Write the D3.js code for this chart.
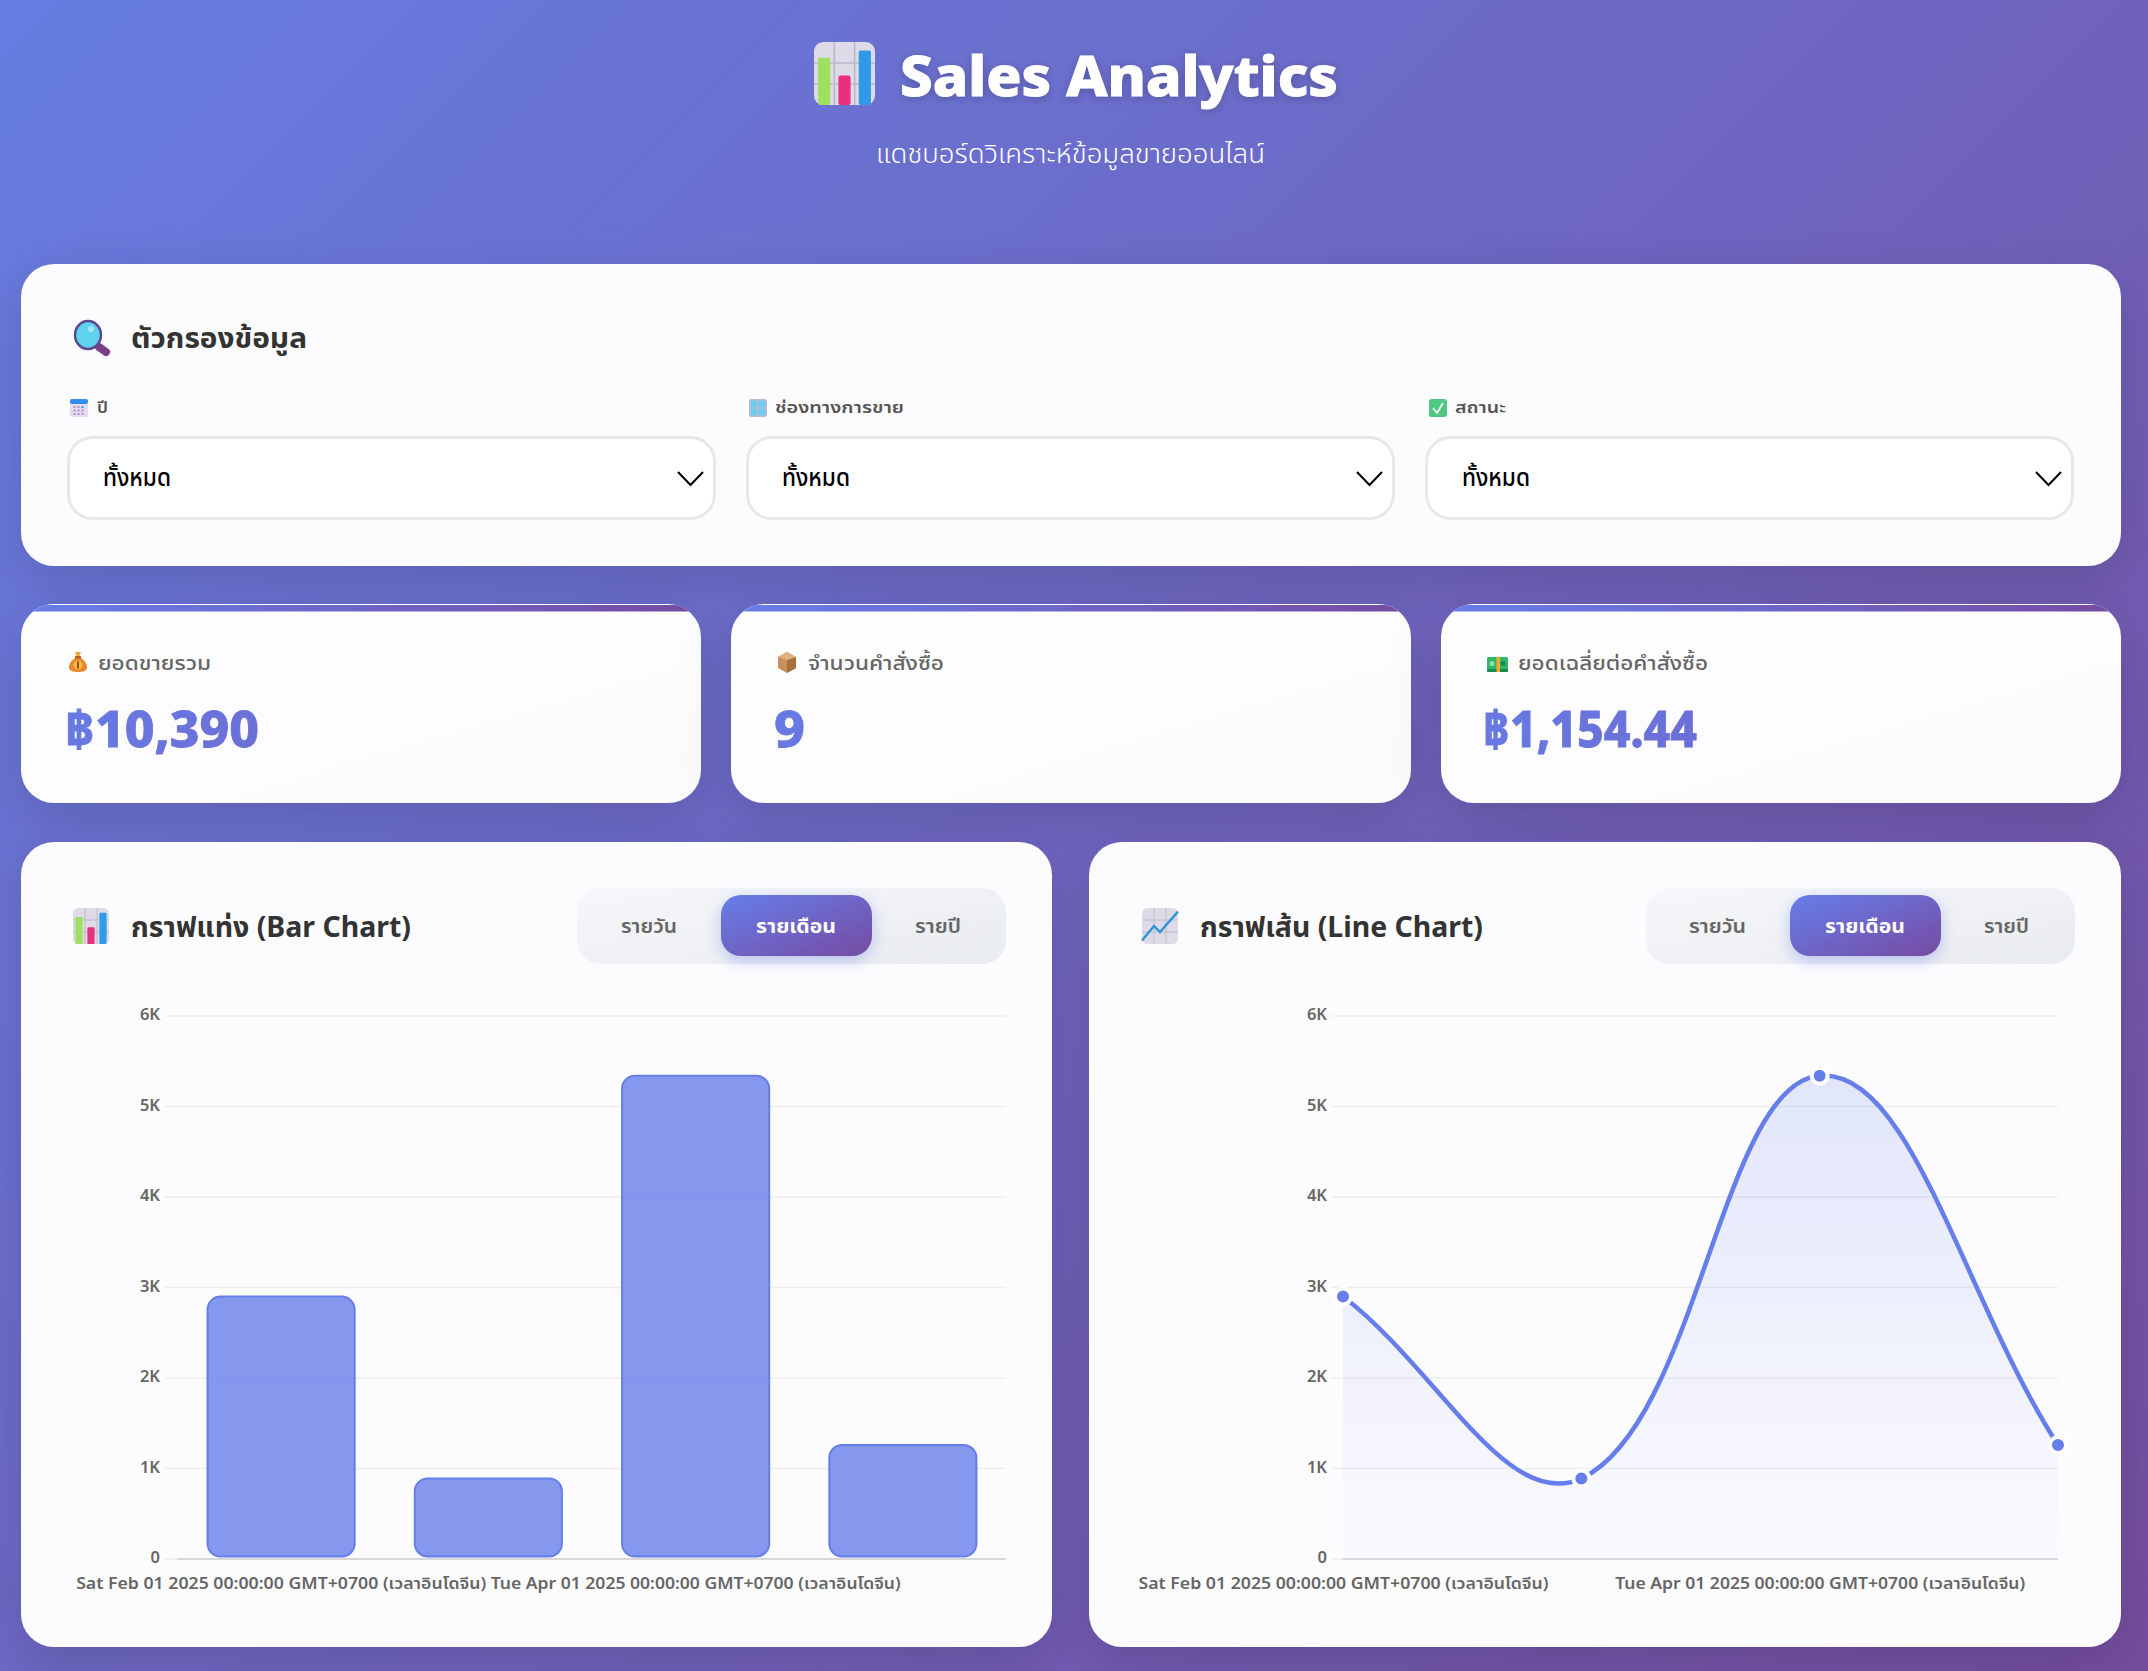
<!DOCTYPE html>
<html>
<head>
<meta charset="utf-8">
<title>Sales Analytics</title>
<script src="https://cdn.jsdelivr.net/npm/d3@7"></script>
<style>
html, body { margin: 0; padding: 0; background: #6a65c6; overflow: hidden; }
svg { display: block; }
text { font-family: "Noto Sans", "Noto Sans Thai", "Noto Sans Thai Looped", sans-serif; }
</style>
</head>
<body>
<div id="page"></div>
<script>
// chart values
var monthLabels = [
    "Sat Feb 01 2025 00:00:00 GMT+0700 (เวลาอินโดจีน)",
    "Sat Mar 01 2025 00:00:00 GMT+0700 (เวลาอินโดจีน)",
    "Tue Apr 01 2025 00:00:00 GMT+0700 (เวลาอินโดจีน)",
    "Thu May 01 2025 00:00:00 GMT+0700 (เวลาอินโดจีน)"
];
var salesValues = [2900, 890, 5340, 1260];
var yTicks = [0, 1000, 2000, 3000, 4000, 5000, 6000];
var shownLabels = [monthLabels[0], monthLabels[2]];

// page text
var filterLabels = ["ปี", "ช่องทางการขาย", "สถานะ"];
var filterValue = "ทั้งหมด";
var statLabels = ["ยอดขายรวม", "จำนวนคำสั่งซื้อ", "ยอดเฉลี่ยต่อคำสั่งซื้อ"];
var statValues = ["฿10,390", "9", "฿1,154.44"];
var toggleLabels = ["รายวัน", "รายเดือน", "รายปี"];

var width = 2148, height = 1671;
var blue = "#667eea", purple = "#764ba2";

var svg = d3.select("#page").append("svg")
    .attr("width", width)
    .attr("height", height);
var defs = svg.append("defs");

function addGradient(id, x1, y1, x2, y2, stops, userSpace) {
    var grad = defs.append("linearGradient").attr("id", id)
        .attr("x1", x1).attr("y1", y1).attr("x2", x2).attr("y2", y2);
    if (userSpace) grad.attr("gradientUnits", "userSpaceOnUse");
    stops.forEach(function(s) {
        grad.append("stop").attr("offset", s[0]).attr("stop-color", s[1]).attr("stop-opacity", s[2] === undefined ? 1 : s[2]);
    });
}

function addShadow(id, dy, blur, color, op) {
    var f = defs.append("filter").attr("id", id)
        .attr("x", "-20%").attr("y", "-60%").attr("width", "140%").attr("height", "240%");
    f.append("feDropShadow").attr("dx", 0).attr("dy", dy).attr("stdDeviation", blur)
        .attr("flood-color", color).attr("flood-opacity", op);
}

// css 135deg over the whole window
addGradient("bgGrad", 119, -119, 2029, 1790, [[0, blue], [1, purple]], true);
addGradient("btnGrad", "0%", "0%", "100%", "100%", [[0, blue], [1, purple]]);
addGradient("stripeGrad", "0%", "0%", "100%", "0%", [[0, blue], [1, purple]]);
addGradient("toggleGrad", "0%", "0%", "100%", "100%", [[0, "#f5f7fa"], [1, "#e9ecef"]]);
addGradient("statGrad", "0%", "0%", "100%", "100%", [[0, "#fefeff"], [1, "#fbfbfe"]]);
addShadow("cardShadow", 15, 25, "#000000", 0.14);
addShadow("titleShadow", 2, 5, "#000000", 0.2);
addShadow("btnShadow", 5, 8, blue, 0.4);

svg.append("rect").attr("width", width).attr("height", height).attr("fill", "url(#bgGrad)");
svg.append("rect").attr("width", width).attr("height", height).attr("fill", "#707070").attr("fill-opacity", 0.07);

// draws one text, squeezed to the width measured in the reference
function addText(parent, str, x, y, size, weight, fill, len) {
    var t = parent.append("text")
        .attr("x", x).attr("y", y)
        .attr("font-size", size).attr("font-weight", weight)
        .attr("fill", fill)
        .text(str);
    if (len) t.attr("textLength", len).attr("lengthAdjust", "spacingAndGlyphs");
    return t;
}

function addCard(x, y, w, h, fill) {
    return svg.append("rect")
        .attr("x", x).attr("y", y).attr("width", w).attr("height", h)
        .attr("rx", 33).attr("fill", fill || "#fcfcfe")
        .attr("filter", "url(#cardShadow)");
}

//================ icons ================
function iconGroup(x, y) {
    return svg.append("g").attr("transform", "translate(" + x + "," + y + ")");
}

function iconChart(x, y, w, h, kind) {
    var g = svg.append("g").attr("transform", "translate(" + x + "," + y + ") scale(" + w / 60 + "," + h / 60 + ")");
    g.append("rect").attr("width", 60).attr("height", 60).attr("rx", 9).attr("fill", "#dedae8");
    [20, 40].forEach(function(p) {
        g.append("line").attr("x1", p).attr("x2", p).attr("y1", 0).attr("y2", 60).attr("stroke", "#bdb8c8").attr("stroke-width", 1.6);
        g.append("line").attr("y1", p).attr("y2", p).attr("x1", 0).attr("x2", 60).attr("stroke", "#bdb8c8").attr("stroke-width", 1.6);
    });
    if (kind == "bar") {
        g.append("rect").attr("x", 4).attr("y", 15).attr("width", 12).attr("height", 45).attr("rx", 2).attr("fill", "#9fe05f");
        g.append("rect").attr("x", 24).attr("y", 32).attr("width", 12).attr("height", 28).attr("rx", 2).attr("fill", "#ea2f7c");
        g.append("rect").attr("x", 44).attr("y", 8).attr("width", 12).attr("height", 52).attr("rx", 2).attr("fill", "#2f9be8");
    } else {
        g.append("path").attr("d", "M0,54 L20,30 L30,40 L60,6").attr("fill", "none").attr("stroke", "#2f93d8").attr("stroke-width", 4);
    }
}

function iconSearch(x, y) {
    var g = iconGroup(x, y);
    g.append("line").attr("x1", 26).attr("y1", 27).attr("x2", 33).attr("y2", 32).attr("stroke", "#7d3f86").attr("stroke-width", 8).attr("stroke-linecap", "round");
    g.append("ellipse").attr("cx", 15).attr("cy", 15).attr("rx", 13).attr("ry", 14).attr("fill", "#5fd2ee").attr("stroke", "#5b4a8c").attr("stroke-width", 2.5);
    g.append("circle").attr("cx", 18).attr("cy", 9).attr("r", 3).attr("fill", "#a8e8f6");
}

function iconCalendar(x, y) {
    var g = iconGroup(x, y);
    g.append("rect").attr("width", 18).attr("height", 18).attr("rx", 2.5).attr("fill", "#e4daf2");
    g.append("rect").attr("width", 18).attr("height", 5).attr("rx", 2).attr("fill", "#2f8ff0");
    [0, 1, 2].forEach(function(r) {
        [0, 1, 2].forEach(function(c) {
            g.append("rect").attr("x", 3.5 + c * 4).attr("y", 7 + r * 3.5).attr("width", 2).attr("height", 2)
                .attr("fill", (r == 0 && c == 2) ? "#3a90e8" : "#a59ab8");
        });
    });
}

function iconWindow(x, y) {
    var g = iconGroup(x, y);
    g.append("rect").attr("width", 18).attr("height", 18).attr("rx", 2).attr("fill", "#c0b8d4");
    g.append("rect").attr("x", 1.5).attr("y", 1.5).attr("width", 15).attr("height", 15).attr("fill", "#6fcdf2");
    g.append("line").attr("x1", 9).attr("x2", 9).attr("y1", 0).attr("y2", 18).attr("stroke", "#c0b8d4").attr("stroke-width", 1.5);
    g.append("line").attr("x1", 0).attr("x2", 18).attr("y1", 9).attr("y2", 9).attr("stroke", "#c0b8d4").attr("stroke-width", 1);
}

function iconCheck(x, y) {
    var g = iconGroup(x, y);
    g.append("rect").attr("width", 18).attr("height", 18).attr("rx", 2.5).attr("fill", "#4fc982");
    g.append("path").attr("d", "M4,9 L8,14 L14,4").attr("fill", "none").attr("stroke", "#fff").attr("stroke-width", 1.6);
}

function iconBag(x, y) {
    var g = iconGroup(x, y);
    g.append("path").attr("d", "M6,6 C2,9 0,12 0,15 C0,19 4,20 9,20 C14,20 18,19 18,15 C18,12 16,9 12,6 Z").attr("fill", "#e8872a");
    g.append("rect").attr("x", 6).attr("y", 4).attr("width", 6).attr("height", 2.5).attr("fill", "#b8621a");
    g.append("path").attr("d", "M6,0 L12,0 L10.5,4 L7.5,4 Z").attr("fill", "#f2a63a");
    g.append("circle").attr("cx", 9).attr("cy", 13).attr("r", 4.5).attr("fill", "#f7b947");
    g.append("rect").attr("x", 8).attr("y", 9.5).attr("width", 2).attr("height", 7).attr("fill", "#9a4d14");
}

function iconBox(x, y) {
    var g = iconGroup(x, y);
    g.append("path").attr("d", "M9,0 L18,5 L18,16 L9,21 L0,16 L0,5 Z").attr("fill", "#c98f5a");
    g.append("path").attr("d", "M9,8 L18,5 L18,16 L9,21 Z").attr("fill", "#a96f3e");
    g.append("path").attr("d", "M9,0 L18,5 L9,8 L0,5 Z").attr("fill", "#dfb084");
}

function iconMoney(x, y) {
    var g = iconGroup(x, y);
    g.append("rect").attr("width", 21).attr("height", 15).attr("rx", 1.5).attr("fill", "#2fb866");
    g.append("rect").attr("y", 12).attr("width", 21).attr("height", 3).attr("rx", 1).attr("fill", "#178a4c");
    g.append("circle").attr("cx", 5).attr("cy", 6.5).attr("r", 2.5).attr("fill", "#8fe0aa");
    g.append("circle").attr("cx", 16).attr("cy", 6.5).attr("r", 2.5).attr("fill", "#178a4c");
    g.append("rect").attr("x", 9.5).attr("width", 3.5).attr("height", 15).attr("fill", "#f2a82e");
}

//================ header ================
iconChart(814, 42, 61, 63, "bar");
addText(svg, "Sales Analytics", 900, 96, 56, 800, "#fff", 438)
    .attr("stroke", "#fff").attr("stroke-width", 1)
    .attr("filter", "url(#titleShadow)");
addText(svg, "แดชบอร์ดวิเคราะห์ข้อมูลขายออนไลน์", 876, 163, 26, 300, "#fff", 389);

//================ filter card ================
addCard(21, 264, 2100, 302);
iconSearch(73, 320);
addText(svg, "ตัวกรองข้อมูล", 131, 348, 28.8, 700, "#333", 176);

var filterBoxes = [
    { x: 67, iconX: 70, icon: iconCalendar, textX: 97, textW: 11, valueX: 103 },
    { x: 746, iconX: 749, icon: iconWindow, textX: 775, textW: 129, valueX: 782 },
    { x: 1425, iconX: 1429, icon: iconCheck, textX: 1455, textW: 51, valueX: 1462 }
];
filterBoxes.forEach(function(b, i) {
    b.icon(b.iconX, 399);
    addText(svg, filterLabels[i], b.textX, 413, 16, 600, "#555", b.textW);
    svg.append("rect")
        .attr("x", b.x + 1.5).attr("y", 437.5).attr("width", 646).attr("height", 81).attr("rx", 24)
        .attr("fill", "#fff").attr("stroke", "#e8e8e8").attr("stroke-width", 3);
    addText(svg, filterValue, b.valueX, 486, 24, 500, "#000", 68);
    // select arrow
    svg.append("path")
        .attr("transform", "translate(" + (b.x + 611) + ",472)")
        .attr("d", "M0,0 L12.5,13 L25,0")
        .attr("fill", "none").attr("stroke", "#000").attr("stroke-width", 2);
});

//================ stat cards ================
var statBoxes = [
    { x: 21, icon: iconBag, iconX: 69, iconY: 652, textX: 98, textW: 113, valueX: 65, valueW: 194 },
    { x: 731, icon: iconBox, iconX: 778, iconY: 652, textX: 808, textW: 136, valueX: 774, valueW: 31 },
    { x: 1441, icon: iconMoney, iconX: 1487, iconY: 657, textX: 1518, textW: 190, valueX: 1483, valueW: 214 }
];
statBoxes.forEach(function(b, i) {
    addCard(b.x, 604, 680, 199, "url(#statGrad)");
    var clipId = "stripeClip" + i;
    defs.append("clipPath").attr("id", clipId).append("rect")
        .attr("x", b.x).attr("y", 604).attr("width", 680).attr("height", 199).attr("rx", 33);
    svg.append("rect")
        .attr("x", b.x).attr("y", 604).attr("width", 680).attr("height", 7.5)
        .attr("fill", "url(#stripeGrad)").attr("clip-path", "url(#" + clipId + ")");
    svg.append("rect")
        .attr("x", b.x).attr("y", 604).attr("width", 680).attr("height", 1)
        .attr("fill", "#fff").attr("clip-path", "url(#" + clipId + ")");
    b.icon(b.iconX, b.iconY);
    addText(svg, statLabels[i], b.textX, 670, 20, 500, "#666", b.textW);
    var gradId = "valueGrad" + i;
    addGradient(gradId, b.x, 604, b.x + 880, 1000, [[0, blue], [1, purple]], true);
    addText(svg, statValues[i], b.valueX, 747, 50, 800, "url(#" + gradId + ")", b.valueW)
        .attr("stroke", "url(#" + gradId + ")").attr("stroke-width", 0.8);
});

//================ chart cards ================
function addChartHead(cardX, cardW, title, titleX, titleW, iconX, toggleX, activeX, textX, textW) {
    addCard(cardX, 842, cardW, 805);
    iconChart(iconX, 908, 36, 36, title.indexOf("Bar") >= 0 ? "bar" : "line");
    addText(svg, title, titleX, 937, 28.8, 700, "#333", titleW);
    svg.append("rect").attr("x", toggleX).attr("y", 888).attr("width", 429).attr("height", 76).attr("rx", 24)
        .attr("fill", "url(#toggleGrad)");
    svg.append("rect").attr("x", activeX).attr("y", 895).attr("width", 151).attr("height", 61).attr("rx", 20)
        .attr("fill", "url(#btnGrad)").attr("filter", "url(#btnShadow)");
    toggleLabels.forEach(function(label, i) {
        addText(svg, label, textX[i], 933, 20, i == 1 ? 700 : 600, i == 1 ? "#fff" : "#666", textW[i]);
    });
}

addChartHead(21, 1031, "กราฟแท่ง (Bar Chart)", 131, 280, 73, 577, 721, [621, 756, 915], [56, 80, 46]);
addChartHead(1089, 1032, "กราฟเส้น (Line Chart)", 1200, 283, 1142, 1646, 1790, [1689, 1825, 1984], [57, 80, 45]);

var plotTop = 1016, plotBottom = 1559;

// shared look for the two axes and the grid
function drawAxes(g, x, left, right, gridLeft) {
    var y = d3.scaleLinear().domain([0, 6000]).range([plotBottom, plotTop]);

    var yAxis = g.append("g")
        .attr("transform", "translate(" + gridLeft + ",-1.5)")
        .call(d3.axisLeft(y).tickValues(yTicks).tickSize(0).tickPadding(5)
            .tickFormat(function(d) { return d == 0 ? "0" : d / 1000 + "K"; }));
    yAxis.select(".domain").remove();
    yAxis.selectAll("text")
        .style("font-family", "'Noto Sans', sans-serif")
        .attr("font-size", 16.5).attr("font-weight", 600).attr("fill", "#666");

    g.append("g").selectAll("line").data(yTicks).join("line")
        .attr("x1", gridLeft).attr("x2", right)
        .attr("y1", function(d) { return y(d); }).attr("y2", function(d) { return y(d); })
        .attr("stroke", "#000").attr("stroke-opacity", 0.06).attr("stroke-width", 1.5);

    g.append("line")
        .attr("x1", left).attr("x2", right).attr("y1", plotBottom).attr("y2", plotBottom)
        .attr("stroke", "#d8d8da").attr("stroke-width", 2);

    var xAxis = g.append("g")
        .attr("transform", "translate(0," + plotBottom + ")")
        .call(d3.axisBottom(x).tickValues(shownLabels).tickSize(0).tickPadding(19));
    xAxis.select(".domain").remove();
    xAxis.selectAll("text")
        .style("font-family", "'Noto Sans', 'Noto Sans Thai', sans-serif")
        .attr("font-size", 16).attr("font-weight", 600).attr("fill", "#666")
        .attr("textLength", 410).attr("lengthAdjust", "spacingAndGlyphs");

    return y;
}

//---- bar chart
var barGroup = svg.append("g");
var xBar = d3.scaleBand().domain(monthLabels).range([177.5, 1006.5]).paddingInner(0.29).paddingOuter(0.145);
var yBar = drawAxes(barGroup, xBar, 177, 1006, 165);

barGroup.append("g").selectAll("rect").data(salesValues).join("rect")
    .attr("x", function(d, i) { return xBar(monthLabels[i]); })
    .attr("y", function(d) { return yBar(d); })
    .attr("width", xBar.bandwidth())
    .attr("height", function(d) { return plotBottom - 2.5 - yBar(d); })
    .attr("rx", 13)
    .attr("fill", blue).attr("fill-opacity", 0.8)
    .attr("stroke", blue).attr("stroke-width", 2);

//---- line chart
// bezier spline with the tangents chart libraries use for a tension of 0.4
function curveTension(context) {
    var pts = [];
    return {
        lineStart: function() { pts = []; },
        point: function(x, y) { pts.push([+x, +y]); },
        lineEnd: function() {
            var t = 0.4;
            var ctrl = pts.map(function(p, i) {
                var prev = pts[i - 1] || p, next = pts[i + 1] || p;
                var d01 = Math.hypot(p[0] - prev[0], p[1] - prev[1]);
                var d12 = Math.hypot(next[0] - p[0], next[1] - p[1]);
                var fa = t * d01 / (d01 + d12), fb = t * d12 / (d01 + d12);
                return {
                    inX: p[0] - fa * (next[0] - prev[0]), inY: p[1] - fa * (next[1] - prev[1]),
                    outX: p[0] + fb * (next[0] - prev[0]), outY: p[1] + fb * (next[1] - prev[1])
                };
            });
            context.moveTo(pts[0][0], pts[0][1]);
            for (var i = 1; i < pts.length; i++) {
                context.bezierCurveTo(ctrl[i - 1].outX, ctrl[i - 1].outY, ctrl[i].inX, ctrl[i].inY, pts[i][0], pts[i][1]);
            }
        }
    };
}

var lineGroup = svg.append("g");
var xLine = d3.scalePoint().domain(monthLabels).range([1343, 2058]);
var yLine = drawAxes(lineGroup, xLine, 1343, 2058, 1332);

addGradient("areaGrad", 0, plotTop, 0, plotBottom, [[0, blue, 0.2], [1, blue, 0.01]], true);

var linePath = d3.line()
    .x(function(d, i) { return xLine(monthLabels[i]); })
    .y(function(d) { return yLine(d); })
    .curve(curveTension);

lineGroup.insert("path", ":first-child")
    .attr("d", linePath(salesValues) + "L" + xLine(monthLabels[3]) + "," + plotBottom + "L" + xLine(monthLabels[0]) + "," + plotBottom + "Z")
    .attr("fill", "url(#areaGrad)");

lineGroup.append("path")
    .attr("d", linePath(salesValues))
    .attr("fill", "none").attr("stroke", blue).attr("stroke-width", 4.5);

lineGroup.append("g").selectAll("circle").data(salesValues).join("circle")
    .attr("cx", function(d, i) { return xLine(monthLabels[i]); })
    .attr("cy", function(d) { return yLine(d); })
    .attr("r", 8)
    .attr("fill", blue).attr("stroke", "#fff").attr("stroke-width", 4);
</script>
</body>
</html>
